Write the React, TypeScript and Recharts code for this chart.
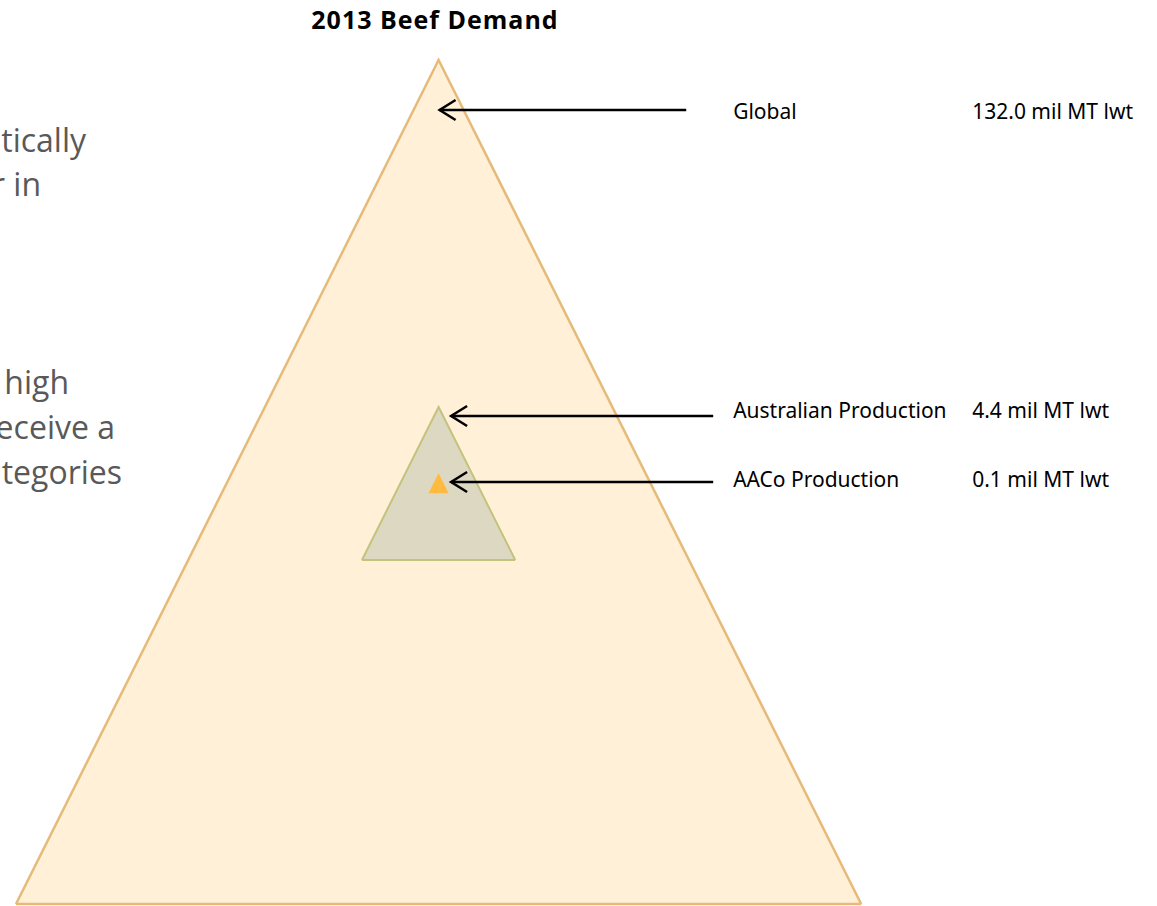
import { ComposedChart, Area, Line, Scatter, XAxis, YAxis } from "recharts";

// tiers of the beef pyramid (top to bottom in the legend column)
const tiers = ["Global", "Australian Production", "AACo Production"];
const volumes = ["132.0 mil MT lwt", "4.4 mil MT lwt", "0.1 mil MT lwt"];

// pyramid per tier, chart units: base level + height (half width = height / 2)
const pyramidBase = [0, 40.76, 48.66];
const pyramidHeight = [100, 18.13, 2.37];

// arrows pointing from the legend to each pyramid
const arrowLevel = [94.08, 57.82, 50.0];
const arrowTip = [0, 1.36, 1.36];
const arrowTail = [29.3, 32.49, 32.49];
const labelLevel = [93.0, 57.6, 49.4];

// slide text that is cut off at the left edge
const slideLinesTop = ["tically", "r in"];
const slideLinesBottom = ["high", "eceive a", "tegories"];

const fills = ["#FFF0D7", "#DDD8C1", "#FFBA3F"];
const strokes = ["#E6BA79", "#C3C37D", "none"];

const NAME_X = 34.85;
const VALUE_X = 63.14;

function pyramid(i: number) {
  const b = pyramidBase[i];
  const h = pyramidHeight[i];
  return [
    { x: -h / 2, band: [b, b] },
    { x: 0, band: [b, b + h] },
    { x: h / 2, band: [b, b] },
  ];
}

function ArrowHead(props: any) {
  const { cx, cy } = props;
  return (
    <path
      d={`M${cx + 17},${cy - 10} L${cx + 1},${cy} L${cx + 17},${cy + 10}`}
      fill="none"
      stroke="#000"
      strokeWidth={2.5}
    />
  );
}

function makeLabel(key: "name" | "value", size: number) {
  return (props: any) => (
    <text
      x={props.cx}
      y={props.cy}
      fontFamily="'Noto Sans', sans-serif"
      fontSize={size}
      fill="#000"
    >
      {props.payload[key]}
    </text>
  );
}

export default function App() {
  const labels = tiers.map((t, i) => ({ name: t, value: volumes[i], y: labelLevel[i] }));

  return (
    <div style={{ position: "absolute", left: 0, top: 0, width: 1157, height: 906 }}>
      <svg width={1157} height={906} style={{ position: "absolute", left: 0, top: 0 }}>
        <text
          x={435}
          y={29}
          textAnchor="middle"
          fontFamily="'Open Sans', sans-serif"
          fontWeight={700}
          fontSize={25}
          letterSpacing={1}
          fill="#000"
        >
          2013 Beef Demand
        </text>
        {slideLinesTop.map((s, i) => (
          <text key={s} x={[86, 41][i]} y={152 + i * 44} textAnchor="end" fontFamily="'Open Sans', sans-serif" fontSize={32} fill="#595959">
            {s}
          </text>
        ))}
        {slideLinesBottom.map((s, i) => (
          <text key={s} x={[69, 115, 122][i]} y={394 + i * 45} textAnchor="end" fontFamily="'Open Sans', sans-serif" fontSize={32} fill="#595959">
            {s}
          </text>
        ))}
      </svg>
      <div style={{ position: "absolute", left: 0, top: 0 }}>
        <ComposedChart width={1157} height={906} margin={{ top: 60, right: 0, bottom: 2, left: 16 }}>
          <XAxis type="number" dataKey="x" domain={[-50, 85]} hide />
          <YAxis type="number" domain={[0, 100]} hide />
          {tiers.map((t, i) => (
            <Area
              key={t}
              data={pyramid(i)}
              dataKey="band"
              type="linear"
              fill={fills[i]}
              fillOpacity={1}
              stroke={strokes[i]}
              strokeWidth={i === 0 ? 2.5 : 2}
              dot={false}
              activeDot={false}
              isAnimationActive={false}
            />
          ))}
          {tiers.map((t, i) => (
            <Line
              key={"arrow-" + t}
              data={[
                { x: arrowTail[i], y: arrowLevel[i] },
                { x: arrowTip[i] + 0.1, y: arrowLevel[i] },
              ]}
              dataKey="y"
              type="linear"
              stroke="#000"
              strokeWidth={2.5}
              dot={false}
              activeDot={false}
              isAnimationActive={false}
            />
          ))}
          <Scatter
            data={tiers.map((_, i) => ({ x: arrowTip[i], y: arrowLevel[i] }))}
            dataKey="y"
            shape={ArrowHead}
            isAnimationActive={false}
          />
          <Scatter
            data={labels.map((d) => ({ ...d, x: NAME_X }))}
            dataKey="y"
            shape={makeLabel("name", 21)}
            isAnimationActive={false}
          />
          <Scatter
            data={labels.map((d) => ({ ...d, x: VALUE_X }))}
            dataKey="y"
            shape={makeLabel("value", 21)}
            isAnimationActive={false}
          />
        </ComposedChart>
      </div>
    </div>
  );
}
